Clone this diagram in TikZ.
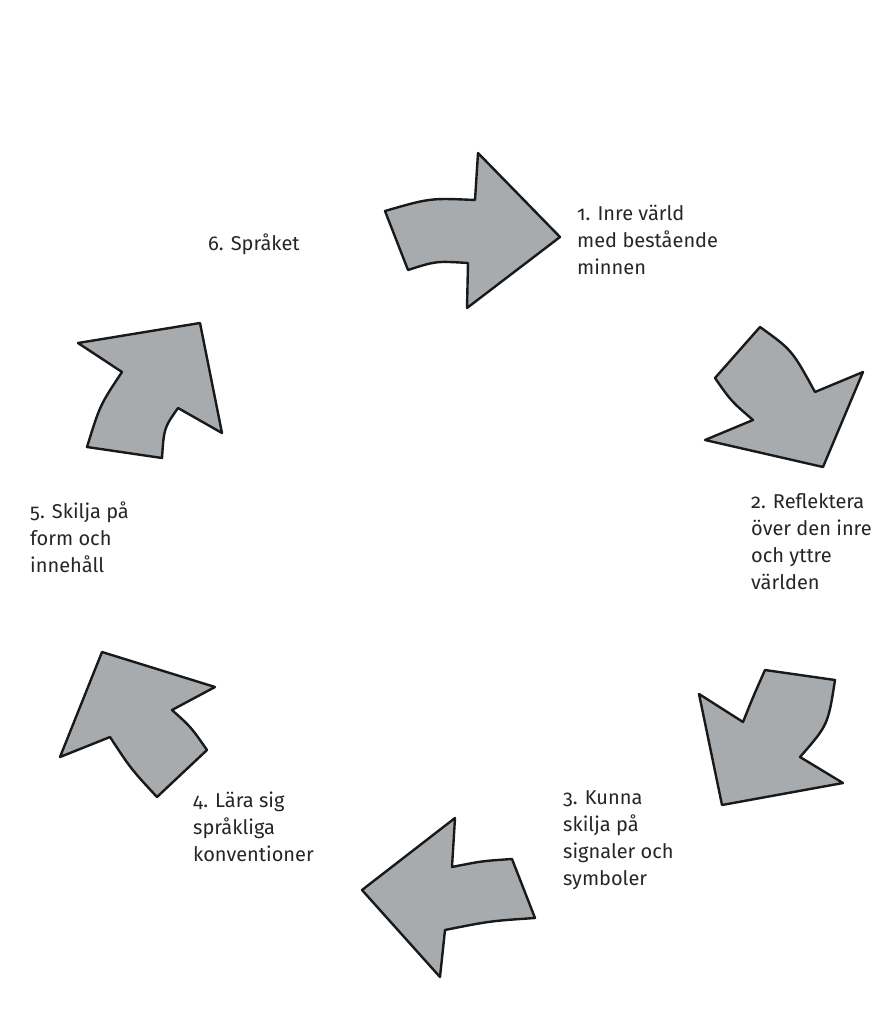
\documentclass[tikz,border=0pt]{standalone}
\usepackage{fontspec}
\setmainfont[Numbers=OldStyle]{Fira Sans}
\definecolor{arrowfill}{HTML}{A8ABAE}
\definecolor{txt}{HTML}{262626}
\begin{document}
\begin{tikzpicture}[x=1pt,y=-1pt,
  bigarrow/.style={draw=black!90,fill=arrowfill,line width=2.4pt,line join=round},
  lbl/.style={font=\fontsize{20}{27}\selectfont,text=txt,anchor=base west,inner sep=0pt}]
\fill[white] (0,0) rectangle (885,1009);
\useasboundingbox (0,0) rectangle (885,1009);
% arrow 1 (top, pointing right)
\path[bigarrow] (385,211) .. controls (430,198) .. (475,200) -- (478,153) -- (560,237) -- (467,308) -- (468,263) .. controls (436,261) .. (408,270) -- cycle;
% arrow 2 (right upper, pointing down-right)
\path[bigarrow] (760,327) .. controls (792,350) .. (815,392) -- (863,372) -- (823,467) -- (705,440) -- (753,420) .. controls (731,401) .. (715,378) -- cycle;
% arrow 3 (right lower, pointing down-left)
\path[bigarrow] (765,670) -- (835,680) .. controls (828,725) .. (800,757) -- (843,783) -- (722,805) -- (699,694) -- (743,722) .. controls (753,697) .. (765,670) -- cycle;
% arrow 4 (bottom, pointing left)
\path[bigarrow] (455,818) -- (452,867) .. controls (482,861) .. (512,859) -- (535,918) .. controls (490,921) .. (445,930) -- (440,977) -- (362,890) -- cycle;
% arrow 5 (left lower, pointing up-left)
\path[bigarrow] (102,652) -- (215,687) -- (172,710) .. controls (191,727) .. (207,750) -- (157,797) .. controls (131,769) .. (110,737) -- (60,757) -- cycle;
% arrow 6 (left upper, pointing up-right)
\path[bigarrow] (78,343) -- (200,323) -- (222,433) -- (178,408) .. controls (164,428) .. (162,458) -- (87,447) .. controls (100,405) .. (122,372) -- cycle;
% labels
\node[lbl] (l1) at (577,220) {\vtop{\hbox{1. Inre värld}\hbox{med bestående}\hbox{minnen}}};
\node[lbl] (l2) at (751,508) {\vtop{\hbox{2. Reflektera}\hbox{över den inre}\hbox{och yttre}\hbox{världen}}};
\node[lbl] (l3) at (563,804) {\vtop{\hbox{3. Kunna}\hbox{skilja på}\hbox{signaler och}\hbox{symboler}}};
\node[lbl] (l4) at (193,807) {\vtop{\hbox{4. Lära sig}\hbox{språkliga}\hbox{konventioner}}};
\node[lbl] (l5) at (30,518) {\vtop{\hbox{5. Skilja på}\hbox{form och}\hbox{innehåll}}};
\node[lbl] (l6) at (208,250) {6. Språket};
\end{tikzpicture}
\end{document}
